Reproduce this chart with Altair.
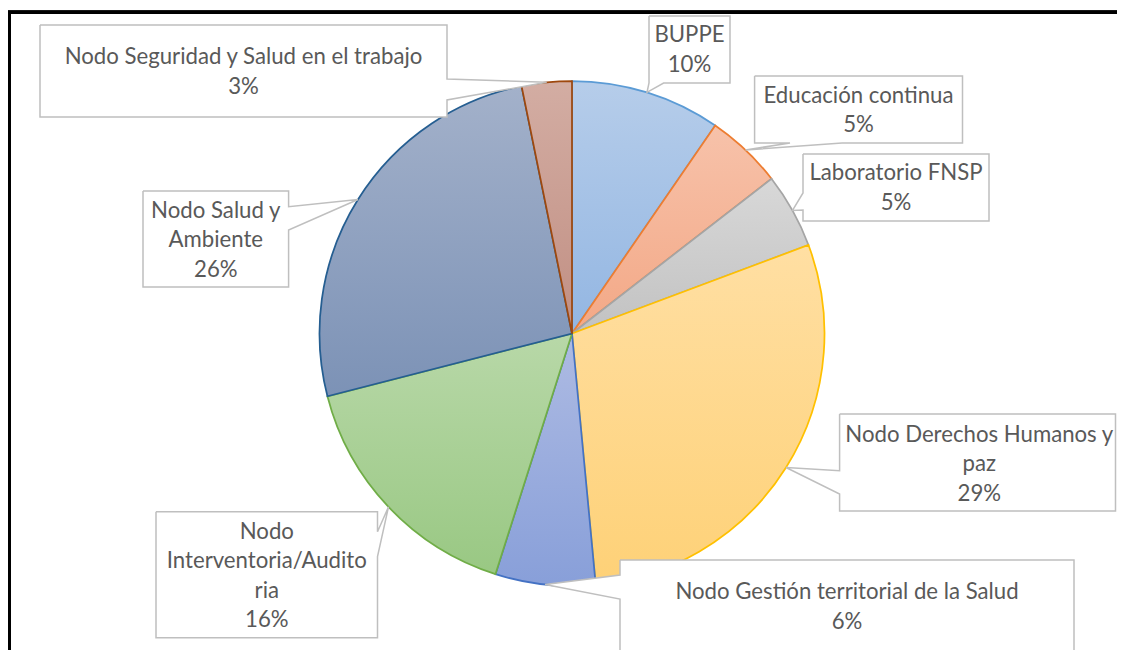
import math
import altair as alt
import pandas as pd

# ---------------- data ----------------
categories = [
    "BUPPE",
    "Educación continua",
    "Laboratorio FNSP",
    "Nodo Derechos Humanos y paz",
    "Nodo Gestión territorial de la Salud",
    "Nodo Interventoria/Auditoria",
    "Nodo Salud y Ambiente",
    "Nodo Seguridad y Salud en el trabajo",
]
values = [9.6, 4.9, 4.8, 29.2, 6.4, 16.1, 25.8, 3.2]
label_names = [
    "BUPPE",
    "Educación continua",
    "Laboratorio FNSP",
    "Nodo Derechos Humanos y\npaz",
    "Nodo Gestión territorial de la Salud",
    "Nodo\nInterventoria/Audito\nria",
    "Nodo Salud y\nAmbiente",
    "Nodo Seguridad y Salud en el trabajo",
]

# ---------------- style ----------------
grad_top = ["#b6cdea", "#f7c2aa", "#d8d8d8", "#ffdfa3", "#aebbe3", "#b8d8a8", "#a3b1ca", "#d3ada3"]
grad_bot = ["#93b6e2", "#f3a886", "#c2c2c2", "#fed177", "#889fd9", "#99c883", "#7c92b6", "#c18f83"]
edge_col = ["#5b9bd5", "#ed7d31", "#a5a5a5", "#ffc000", "#4472c4", "#70ad47", "#255e91", "#9e480e"]
LINE_H = 29.5

# ---------------- layout (page pixels) ----------------
W, H = 1109, 642
OFF = 8
CX, CY, R = 572.0, 333.5, 252.5

# callout outlines, None = tip at the slice (computed from the data)
call_x = [
    [649, 730, 730, 663.6, None, 649, 649],
    [754.6, 962.5, 962.5, 842, None, 790, 754.6, 754.6],
    [803, 989, 989, 803, 803, None, 803, 803],
    [839.6, 1115.5, 1115.5, 839.6, 839.6, None, 839.6, 839.6],
    [620, 1074, 1074, 620, 620, None, 620, 620],
    [156, 377.5, 377.5, None, 377.5, 377.5, 156, 156],
    [143, 288.6, 288.6, None, 288.6, 288.6, 143, 143],
    [40, 447, 447, None, 447, 447, 40, 40],
]
call_y = [
    [16, 16, 83, 83, None, 83, 16],
    [76, 76, 143, 143, None, 143, 143, 76],
    [154, 154, 221, 221, 210, None, 193, 154],
    [414, 414, 511, 511, 494, None, 470.7, 414],
    [560, 560, 670, 670, 599, None, 575, 560],
    [511.7, 511.7, 531.7, None, 556.7, 637.7, 637.7, 511.7],
    [191, 191, 206.7, None, 230, 287, 287, 191],
    [25, 25, 79, None, 100, 117, 117, 25],
]
text_x = [689.5, 858.5, 896, 979.3, 847, 266.8, 215.8, 243.5]
text_y = [50, 110.5, 188, 464, 607, 576, 240, 72]

df = pd.DataFrame({
    "cat": categories,
    "value": values,
    "idx": list(range(len(categories))),
    "name": label_names,
    "vx": call_x,
    "vy": call_y,
    "vs": [list(range(len(v))) for v in call_x],
    "tx": text_x,
    "ty": text_y,
})

xs = alt.Scale(domain=[OFF, OFF + W], range=[0, W])
ys = alt.Scale(domain=[OFF, OFF + H], range=[0, H])

base = (
    alt.Chart(df)
    .transform_joinaggregate(total="sum(value)")
    .transform_window(cum="sum(value)", sort=[alt.SortField("idx")], frame=[None, 0])
    .transform_calculate(
        t1="datum.cum / datum.total",
        t0="(datum.cum - datum.value) / datum.total",
    )
)

layers = []
for i in range(len(categories)):
    grad = alt.LinearGradient(
        gradient="linear",
        stops=[alt.GradientStop(color=grad_top[i], offset=0),
               alt.GradientStop(color=grad_bot[i], offset=1)],
        x1=0, x2=0, y1=0, y2=1,
    )
    arc = (
        base.transform_filter(alt.datum.idx == i)
        .mark_arc(fill=grad, stroke=edge_col[i], strokeWidth=1.75, radius=R)
        .encode(
            theta=alt.Theta("t0:Q", stack=None,
                            scale=alt.Scale(domain=[0, 1], range=[0, 2 * math.pi])),
            theta2=alt.Theta2("t1:Q"),
            x=alt.value(CX - OFF),
            y=alt.value(CY - OFF),
        )
    )
    layers.append(arc)

callouts = (
    base.transform_calculate(
        mid="2 * PI * (datum.t0 + datum.t1) / 2",
    )
    .transform_calculate(
        tipx=f"{CX} + {R} * sin(datum.mid)",
        tipy=f"{CY} - {R} * cos(datum.mid)",
    )
    .transform_flatten(["vx", "vy", "vs"], as_=["px", "py", "seq"])
    .transform_calculate(
        X="isValid(datum.px) ? datum.px : datum.tipx",
        Y="isValid(datum.py) ? datum.py : datum.tipy",
    )
    .mark_line(fill="white", stroke="#bfbfbf", strokeWidth=1.5, strokeJoin="miter")
    .encode(
        x=alt.X("X:Q", scale=xs, axis=None),
        y=alt.Y("Y:Q", scale=ys, axis=None),
        detail="cat:N",
        order="seq:Q",
    )
)

texts = (
    base.transform_calculate(
        txt="datum.name + '\\n' + format(datum.value / datum.total, '.0%')",
        nl="length(split(datum.name, '\\n')) + 1",
    )
    .transform_calculate(
        ty0=f"datum.ty - (datum.nl - 1) * {LINE_H} / 2",
    )
    .mark_text(font="Lato", fontSize=22.2, color="#595959", lineBreak="\n",
               lineHeight=LINE_H, baseline="middle", align="center")
    .encode(
        x=alt.X("tx:Q", scale=xs, axis=None),
        y=alt.Y("ty0:Q", scale=ys, axis=None),
        text="txt:N",
    )
)

frame_top = alt.Chart(df).mark_rule(color="black", strokeWidth=2.75).encode(
    x=alt.value(0), x2=alt.value(W + 10), y=alt.value(4.2)
)
frame_left = alt.Chart(df).mark_rule(color="black", strokeWidth=2.75).encode(
    x=alt.value(1.2), y=alt.value(3), y2=alt.value(H + 10)
)

chart = (
    alt.layer(*layers, callouts, texts, frame_top, frame_left)
    .properties(width=W, height=H, padding=0, autosize="none", background="white")
    .configure_view(stroke=None)
)

chart.save("out.html", embed_options={"renderer": "svg", "actions": False})
